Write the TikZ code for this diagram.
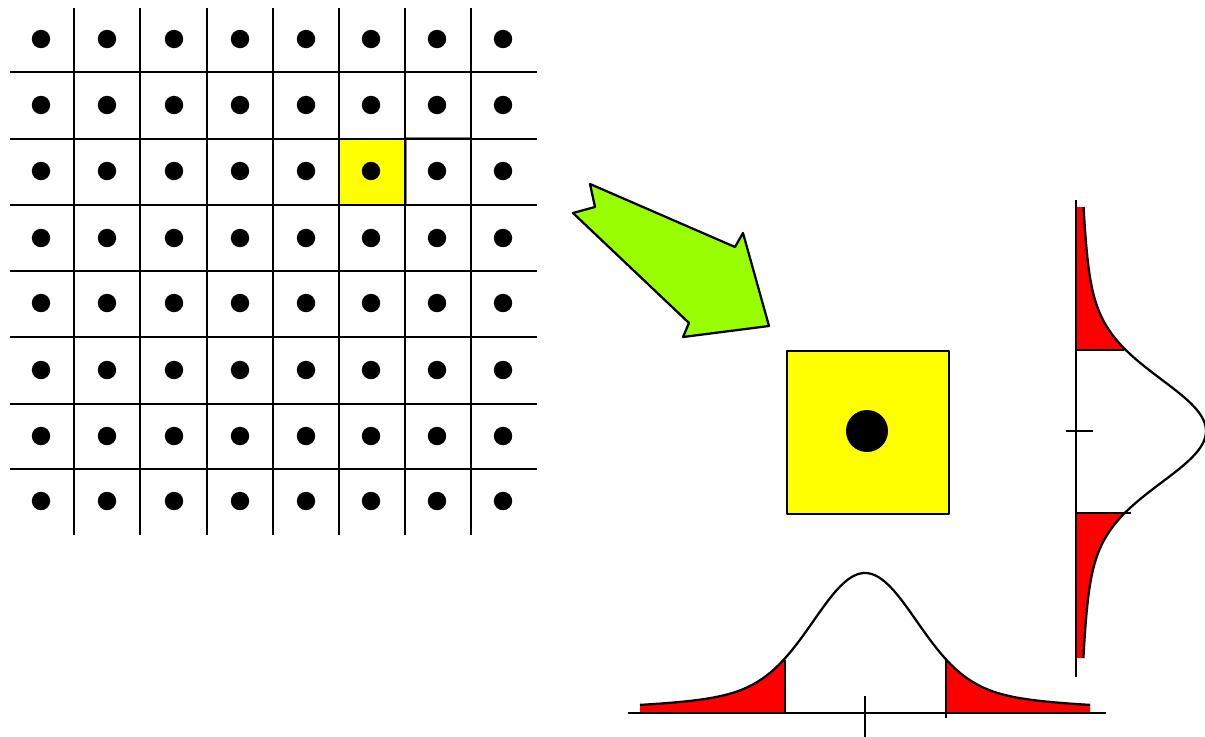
\documentclass[tikz,border=0pt]{standalone}
\usepackage{amsmath,amssymb}

\definecolor{cellyellow}{HTML}{FFFF00}
\definecolor{arrowgreen}{HTML}{99FF00}
\definecolor{tailred}{HTML}{FF0000}

\tikzset{
  declare function={bell(\t)=0.7*exp(-0.5*((\t)/50)^2)+0.3/(1+((\t)/110)^2);},
  gridline/.style={line width=2.1pt},
  curveline/.style={line width=1.6pt}
}

\begin{document}
\begin{tikzpicture}[x=0.025cm,y=-0.025cm,line join=round]
    \useasboundingbox (0,0) rectangle (1205,737);

    % pixel grid with one pixel picked out
    \fill[cellyellow] (339,139) rectangle (405,205);
    \draw[gray,line width=0.6pt] (406,137) rectangle (470,204);
    \foreach \x in {74,140,207,273,339,405,471}
      \draw[gridline] (\x,8) -- (\x,535);
    \foreach \y in {72,139,205,271,337,404,469}
      \draw[gridline] (10,\y) -- (537,\y);
    \foreach \x in {41,107,174,240,306,371,437,503}
      \foreach \y in {39,105,171,238,303,370,436,501}
        \fill (\x,\y) circle[radius=0.23cm];

    % block arrow towards the enlarged pixel
    \draw[fill=arrowgreen,curveline] (590,184) -- (595,207) -- (573,213)
      -- (689,323) -- (683,337) -- (769,326) -- (743,233) -- (735,247) -- cycle;

    % enlarged pixel
    \draw[fill=cellyellow,curveline] (787,351) rectangle (949,514);
    \fill (867,431) circle[radius=0.525cm];

    % distribution along x, both tails shaded
    \fill[tailred] (640,713) -- (640,701)
      -- plot[domain=-225:-80,samples=60] ({865+\x},{713-140*bell(\x)})
      -- (785,713) -- cycle;
    \fill[tailred] (1090,713) -- (1090,701)
      -- plot[domain=225:81,samples=60] ({865+\x},{713-140*bell(\x)})
      -- (946,713) -- cycle;
    \draw[curveline] plot[domain=-225:225,samples=150]
      ({865+\x},{713-140*bell(\x)});
    \draw[gridline] (628,713) -- (1106,713);
    \draw[gridline] (865,696) -- (865,737);
    \draw[gridline] (785,660) -- (785,713);
    \draw[gridline] (946,658) -- (946,718);

    % distribution along y, both tails shaded
    \fill[tailred] (1076,207) -- (1087,207)
      -- plot[domain=-224:-81,samples=60] ({1076+130*bell(\x)},{431+\x})
      -- (1076,350) -- cycle;
    \fill[tailred] (1076,658) -- (1087,658)
      -- plot[domain=227:82,samples=60] ({1076+130*bell(\x)},{431+\x})
      -- (1076,513) -- cycle;
    \draw[curveline] plot[domain=-224:227,samples=150]
      ({1076+130*bell(\x)},{431+\x});
    \draw[gridline] (1076,200) -- (1076,677);
    \draw[gridline] (1066,431) -- (1093,431);
    \draw[gridline] (1076,350) -- (1124,350);
    \draw[gridline] (1076,513) -- (1131,513);
\end{tikzpicture}
\end{document}
